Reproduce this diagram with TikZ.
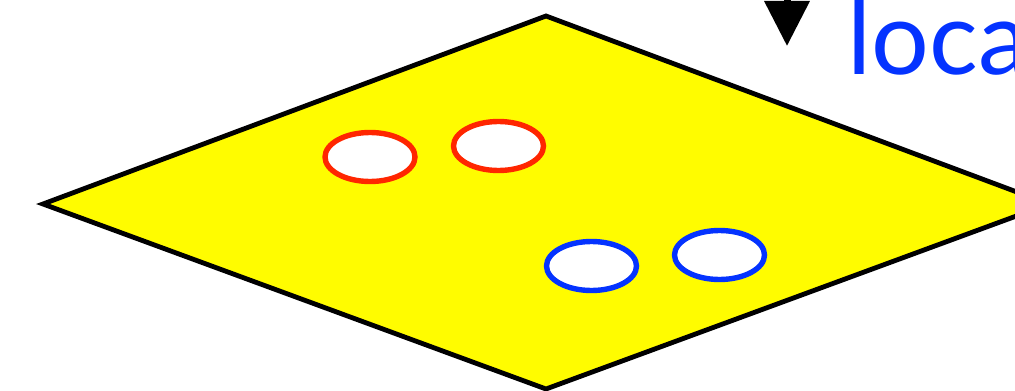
\documentclass[tikz,border=0pt]{standalone}
\usepackage{fontspec}
\setmainfont{Lato}
\usetikzlibrary{shapes.geometric,arrows.meta,positioning}
\definecolor{planeyellow}{RGB}{255,252,0}
\definecolor{spotred}{RGB}{255,38,0}
\definecolor{spotblue}{RGB}{4,51,255}

\begin{document}
\begin{tikzpicture}[x=0.5pt, y=-0.5pt,
    plane/.style={fill=planeyellow, draw=black, line width=2.4pt, line join=miter},
    spot/.style={ellipse, draw, fill=white, line width=2.7pt, inner sep=0pt, minimum width=45pt, minimum height=24.5pt},
    arrow/.style={-{Triangle[length=22.5pt, width=22pt]}, line width=3.5pt}
]
\clip (0,0) rectangle (1015,390);

% the plane
\coordinate (west) at (43,204);
\coordinate (north) at (546,16);
\coordinate (east) at (1049,204);
\coordinate (south) at (546,389);
\draw[plane] (west) -- (north) -- (east) -- (south) -- cycle;

% spots on the plane
\node[spot, draw=spotred] (red1) at (370,157) {};
\node[spot, draw=spotred] (red2) at (498.5,146) {};
\node[spot, draw=spotblue] (blue1) at (591.5,266) {};
\node[spot, draw=spotblue] (blue2) at (719.5,255) {};

% arrow and label
\coordinate (src) at (787,-40);
\coordinate (tip) at (787,46);
\draw[arrow] (src) -- (tip);
\node[anchor=base west, inner sep=0pt, text=spotblue, font=\fontsize{51}{56}\selectfont] (local) at (847,75) {loca};
\end{tikzpicture}
\end{document}
